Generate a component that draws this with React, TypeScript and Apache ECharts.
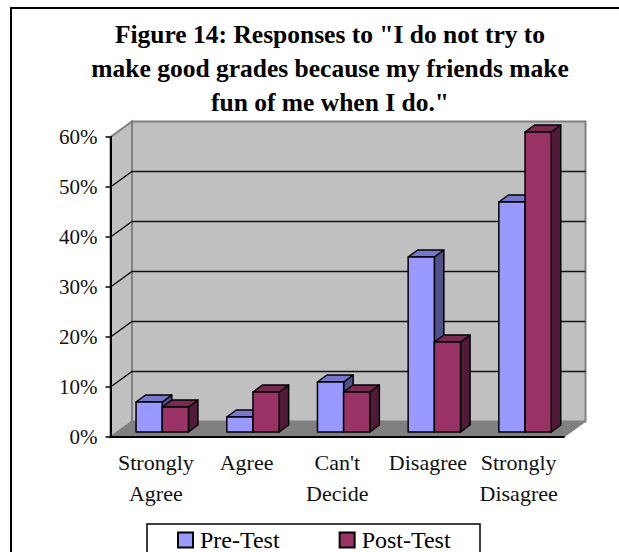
import React, { useEffect, useRef } from "react";
import * as echarts from "echarts";

const categories = ["Strongly\nAgree", "Agree", "Can't\nDecide", "Disagree", "Strongly\nDisagree"];
const preTest = [6, 3, 10, 35, 46];
const postTest = [5, 8, 8, 18, 60];
const yTicks = [10, 20, 30, 40, 50];
const titleText = 'Figure 14: Responses to "I do not try to\nmake good grades because my friends make\nfun of me when I do."';

const FONT = '"Liberation Serif", "Times New Roman", serif';
const WALL_DX = 21.5;
const WALL_DY = 15.5;
const BAR_W = 26.2;
const BAR_DX = 9.5;
const BAR_DY = 7;
const FLOOR_DX = 6.4;
const FLOOR_DY = 5;

// Extruded bar: front face, top face and right side, sitting slightly inside the floor.
function barRenderer(offset: number, front: string, top: string, side: string) {
  return (_params: any, api: any) => {
    const cat = api.value(0);
    const [cx, yTop] = api.coord([cat, api.value(1)]);
    const [, yBase] = api.coord([cat, 0]);
    const x0 = cx + offset + FLOOR_DX - BAR_W / 2;
    const x1 = x0 + BAR_W;
    const t = yTop - FLOOR_DY;
    const b = yBase - FLOOR_DY;
    const stroke = { stroke: "#000", lineWidth: 1.5, lineJoin: "round" };
    return {
      type: "group",
      children: [
        { type: "polygon", shape: { points: [[x1, t], [x1 + BAR_DX, t - BAR_DY], [x1 + BAR_DX, b - BAR_DY], [x1, b]] }, style: { fill: side, ...stroke } },
        { type: "polygon", shape: { points: [[x0, t], [x0 + BAR_DX, t - BAR_DY], [x1 + BAR_DX, t - BAR_DY], [x1, t]] }, style: { fill: top, ...stroke } },
        { type: "rect", shape: { x: x0, y: t, width: BAR_W, height: b - t }, style: { fill: front, ...stroke } },
      ],
    };
  };
}

// Back wall, left wall and floor of the plot box.
function renderWalls(params: any) {
  const { x, y, width, height } = params.coordSys;
  const r = x + width;
  const b = y + height;
  const edge = { stroke: "#808080", lineWidth: 2 };
  return {
    type: "group",
    children: [
      { type: "polygon", shape: { points: [[x, y], [x + WALL_DX, y - WALL_DY], [x + WALL_DX, b - WALL_DY], [x, b]] }, style: { fill: "#c0c0c0", ...edge } },
      { type: "rect", shape: { x: x + WALL_DX, y: y - WALL_DY, width, height }, style: { fill: "#c0c0c0", ...edge } },
      { type: "polygon", shape: { points: [[x, b], [x + WALL_DX, b - WALL_DY], [r + WALL_DX, b - WALL_DY], [r, b]] }, style: { fill: "#808080", stroke: "#808080", lineWidth: 1 } },
    ],
  };
}

// Gridline wrapping from the axis across the left wall and along the back wall.
function renderGridline(params: any, api: any) {
  const { x, width } = params.coordSys;
  const [, py] = api.coord([0, api.value(0)]);
  return {
    type: "polyline",
    shape: { points: [[x, py], [x + WALL_DX, py - WALL_DY], [x + width + WALL_DX, py - WALL_DY]] },
    style: { fill: "none", stroke: "#111", lineWidth: 1.5 },
  };
}

export default function App() {
  const ref = useRef<HTMLDivElement>(null);

  useEffect(() => {
    document.body.style.margin = "0";
    const chart = echarts.init(ref.current!, null, { renderer: "svg" });
    chart.setOption({
      animation: false,
      backgroundColor: "#fff",
      title: {
        text: titleText,
        left: 325,
        top: 12,
        textAlign: "center",
        textStyle: { fontFamily: FONT, fontWeight: "bold", fontSize: 25.5, lineHeight: 34, color: "#000" },
      },
      graphic: [
        { type: "rect", z: -1, shape: { x: 11, y: 8, width: 800, height: 800 }, style: { fill: "none", stroke: "#000", lineWidth: 2 } },
        { type: "rect", z: 1, shape: { x: 147, y: 524, width: 333, height: 60 }, style: { fill: "#fff", stroke: "#000", lineWidth: 1.5 } },
      ],
      legend: {
        data: ["Pre-Test", "Post-Test"],
        left: 177,
        top: 528,
        padding: 0,
        itemGap: 59,
        itemWidth: 15,
        itemHeight: 15,
        z: 10,
        icon: "rect",
        textStyle: { fontFamily: FONT, fontSize: 24, color: "#000", padding: [0, 0, 0, 2] },
      },
      grid: { left: 110.5, right: 55, top: 137, bottom: 115 },
      xAxis: {
        type: "category",
        data: categories,
        z: 5,
        axisLine: { lineStyle: { color: "#000", width: 2 } },
        axisTick: { inside: false, length: 5, alignWithLabel: false, lineStyle: { color: "#000", width: 1.5 } },
        axisLabel: { interval: 0, margin: 10, fontFamily: FONT, fontSize: 22, lineHeight: 31, color: "#111" },
      },
      yAxis: {
        type: "value",
        min: 0,
        max: 60,
        interval: 10,
        z: 5,
        splitLine: { show: false },
        axisLine: { show: true, lineStyle: { color: "#000", width: 2 } },
        axisTick: { show: true, length: 5, lineStyle: { color: "#000", width: 1.5 } },
        axisLabel: { formatter: "{value}%", margin: 13, fontFamily: FONT, fontSize: 21, padding: [3, 0, 0, 0], color: "#111" },
      },
      series: [
        { name: "walls", type: "custom", z: 1, silent: true, renderItem: renderWalls, data: [[0]], clip: false },
        { name: "gridlines", type: "custom", z: 2, silent: true, renderItem: renderGridline, data: yTicks.map((v) => [v]), encode: { y: 0 }, clip: false },
        {
          name: "Pre-Test",
          type: "custom",
          z: 3,
          itemStyle: { color: "#9999ff", borderColor: "#000", borderWidth: 1.5 },
          renderItem: barRenderer(-BAR_W / 2, "#9999ff", "#7777cc", "#51518a"),
          data: preTest.map((v, i) => [i, v]),
          encode: { x: 0, y: 1 },
          clip: false,
        },
        {
          name: "Post-Test",
          type: "custom",
          z: 4,
          itemStyle: { color: "#993366", borderColor: "#000", borderWidth: 1.5 },
          renderItem: barRenderer(BAR_W / 2, "#993366", "#7a2952", "#501b38"),
          data: postTest.map((v, i) => [i, v]),
          encode: { x: 0, y: 1 },
          clip: false,
        },
      ],
    });
    return () => chart.dispose();
  }, []);

  return <div ref={ref} style={{ width: 619, height: 552 }} />;
}
